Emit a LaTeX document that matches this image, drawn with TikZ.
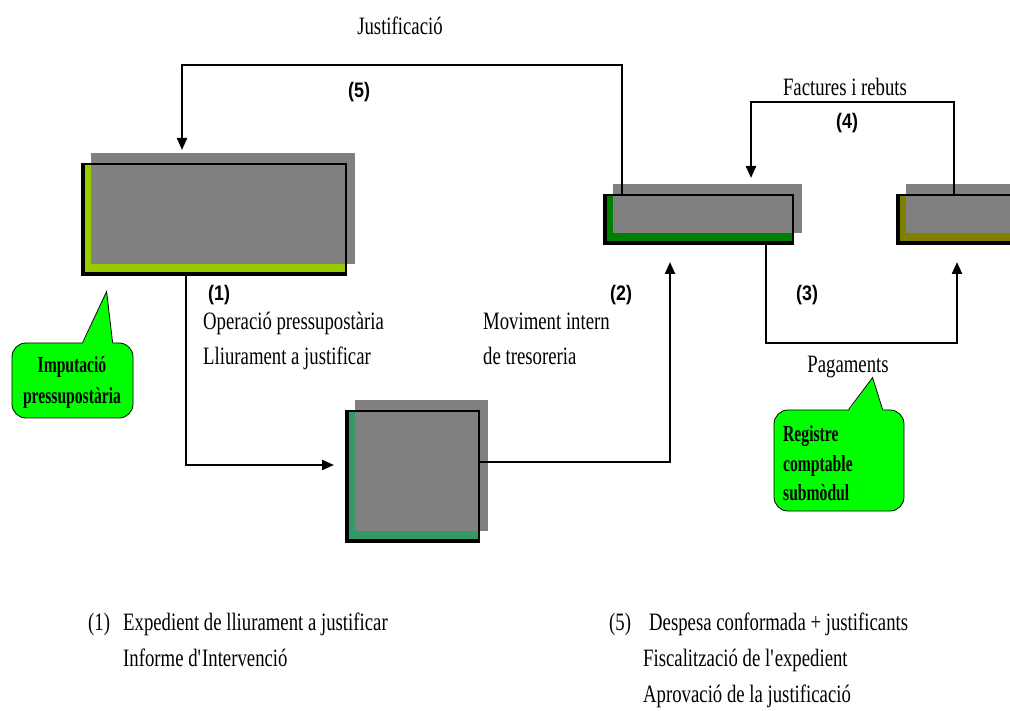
\documentclass[tikz,border=0pt]{standalone}
\usepackage{fontspec}
\setmainfont{Liberation Serif}
\newfontfamily\serifc[FakeStretch=0.75]{Liberation Serif}
\newfontfamily\serifb[FakeStretch=0.68]{Liberation Serif}
\newfontfamily\sansc[FakeStretch=0.85]{Liberation Sans}
\usetikzlibrary{arrows.meta}
\definecolor{boxgray}{HTML}{808080}
\definecolor{cyg}{HTML}{99CC00}
\definecolor{cg}{HTML}{008000}
\definecolor{co}{HTML}{808000}
\definecolor{csg}{HTML}{339966}
\definecolor{cl}{HTML}{00FF00}
\tikzset{
  boxbase/.style={rectangle, inner sep=0, outer sep=0, draw=none},
  conn/.style={line width=2.2pt, -{Triangle[length=12pt,width=10pt]}},
  lbl/.style={font=\serifc\fontsize{25}{30}\selectfont, inner sep=0, anchor=base west},
  lblc/.style={font=\serifc\fontsize{25}{30}\selectfont, inner sep=0, anchor=base},
  num/.style={font=\sansc\bfseries\fontsize{21}{25}\selectfont, inner sep=0, anchor=base west},
  ctext/.style={font=\serifb\bfseries\fontsize{23}{27}\selectfont, inner sep=0},
  callbox/.style={rectangle, rounded corners=14pt, fill=cl, draw=black, line width=0.8pt, inner sep=0},
}
\newcommand{\procbox}[6]{%
  \node[boxbase, fill=#6, minimum width=#4pt, minimum height=#5pt] (#1) at (#2,#3) {};
  \fill[boxgray] ([shift={(9pt,11pt)}]#1.south west) rectangle ([shift={(9pt,11pt)}]#1.north east);
  \draw[line width=1.2pt] (#1.south west) rectangle (#1.north east);
  \draw[line width=3pt] ([xshift=1.5pt]#1.north west) -- ([shift={(1.5pt,1.5pt)}]#1.south west) -- ([yshift=1.5pt]#1.south east);
}
\begin{document}
\begin{tikzpicture}[x=1pt,y=-1pt]
\useasboundingbox (0,0) rectangle (1010,711);
\clip (0,0) rectangle (1010,711);

% process boxes
\procbox{b1}{214}{219.5}{264}{111}{cyg}
\procbox{b2}{698.5}{219.5}{189}{49}{cg}
\procbox{b3}{991.5}{219.5}{189}{49}{co}
\procbox{b4}{412.5}{476.5}{133}{131}{csg}

% callouts
\node[callbox, minimum width=121pt, minimum height=75pt] (c1) at (72.5,380.5) {};
\fill[cl] ([xshift=71pt,yshift=-1.5pt]c1.north west) -- ([shift={(95pt,51pt)}]c1.north west) -- ([xshift=101pt,yshift=-1.5pt]c1.north west) -- cycle;
\draw[line width=0.8pt] ([xshift=71pt]c1.north west) -- ([shift={(95pt,51pt)}]c1.north west) -- ([xshift=101pt]c1.north west);
\node[ctext, anchor=base] (c1a) at (72,373) {Imputació};
\node[ctext, anchor=base] (c1b) at (72,403) {pressupostària};

\node[callbox, minimum width=130pt, minimum height=101pt] (c2) at (839,460.5) {};
\fill[cl] ([xshift=75pt,yshift=-1.5pt]c2.north west) -- ([shift={(99pt,32pt)}]c2.north west) -- ([xshift=109pt,yshift=-1.5pt]c2.north west) -- cycle;
\draw[line width=0.8pt] ([xshift=75pt]c2.north west) -- ([shift={(99pt,32pt)}]c2.north west) -- ([xshift=109pt]c2.north west);
\node[ctext, anchor=base west] (c2a) at (783,442) {Registre};
\node[ctext, anchor=base west] (c2b) at (783,471) {comptable};
\node[ctext, anchor=base west] (c2c) at (783,500) {submòdul};

% connectors
\draw[conn] ([xshift=18pt]b2.north west) -- ++(0,-130) -| ([shift={(100pt,14pt)}]b1.north west);
\draw[conn] ([xshift=104pt]b1.south west) |- ([shift={(-12pt,11.5pt)}]b4.west);
\draw[conn] ([yshift=14.5pt]b4.east) -| ([shift={(66pt,-18pt)}]b2.south west);
\draw[conn] ([xshift=162pt]b2.south west) -- ++(0,99) -| ([shift={(60pt,-18pt)}]b3.south west);
\draw[conn] ([xshift=57pt]b3.north west) -- ++(0,-93) -| ([shift={(147pt,17pt)}]b2.north west);

% labels
\node[lblc] (just) at (400,35) {Justificació};
\node[num] (n5) at (348,98) {(5)};
\node[lblc] (fact) at (845,96) {Factures i rebuts};
\node[num] (n4) at (836,129) {(4)};
\node[num] (n1) at (208,301) {(1)};
\node[num] (n2) at (610,301) {(2)};
\node[num] (n3) at (796,301) {(3)};
\node[lbl] (op1) at (203,330) {Operació pressupostària};
\node[lbl] (op2) at (203,365) {Lliurament a justificar};
\node[lbl] (mv1) at (483,330) {Moviment intern};
\node[lbl] (mv2) at (483,365) {de tresoreria};
\node[lblc] (pag) at (848,373) {Pagaments};

% notes
\node[lbl] (f1n) at (88,630) {(1)};
\node[lbl] (f1a) at (123,630) {Expedient de lliurament a justificar};
\node[lbl] (f1b) at (123,666) {Informe d\textquotesingle Intervenció};
\node[lbl] (f5n) at (609,630) {(5)};
\node[lbl] (f5a) at (649,630) {Despesa conformada + justificants};
\node[lbl] (f5b) at (643,666) {Fiscalització de l\textquotesingle expedient};
\node[lbl] (f5c) at (643,702) {Aprovació de la justificació};
\end{tikzpicture}
\end{document}
